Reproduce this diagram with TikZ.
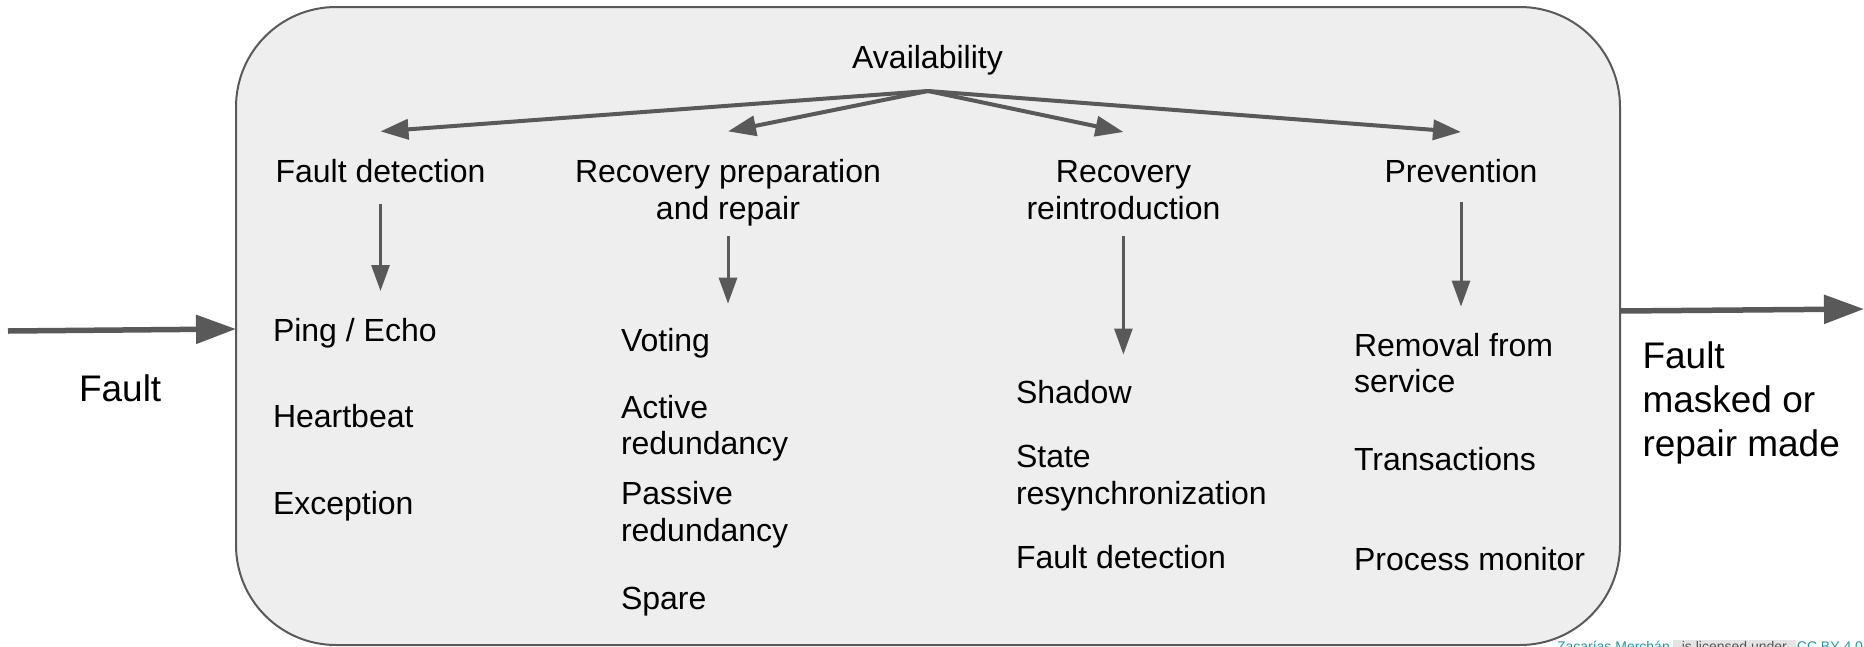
\documentclass[tikz,border=0pt]{standalone}
\usepackage{fontspec}
\setmainfont{Liberation Sans}
\usetikzlibrary{arrows.meta}

\definecolor{edge}{HTML}{595959}
\definecolor{panel}{HTML}{EEEEEE}
\definecolor{creditlink}{HTML}{1A9BA8}
\definecolor{creditbg}{HTML}{E4E4E4}
\definecolor{creditfg}{HTML}{555555}

\tikzset{
  txt/.style={inner sep=0pt, outer sep=0pt, text=black, font=\fontsize{32}{36.5}\selectfont},
  bigtxt/.style={inner sep=0pt, outer sep=0pt, text=black, font=\fontsize{37}{44}\selectfont},
  mainarrow/.style={draw=edge, line width=5.5pt, -{Triangle[length=40pt,width=28pt]}},
  fanarrow/.style={draw=edge, line width=4pt, -{Triangle[length=28pt,width=20pt]}},
  droparrow/.style={draw=edge, line width=3pt, -{Triangle[length=26pt,width=18pt]}}
}

\begin{document}
\begin{tikzpicture}[x=1pt, y=-1pt]
\useasboundingbox (0,0) rectangle (1864,646);

% rounded panel holding the tactic tree
\node[draw=edge, line width=2pt, fill=panel, rounded corners=100pt,
      minimum width=1384pt, minimum height=638pt, inner sep=0pt, outer sep=0pt]
      (frame) at (928,326) {};

% root and categories (multi-line nodes sit on their last baseline)
\node[txt, anchor=base] (avail) at (927.5,68) {Availability};
\node[txt, anchor=base] (fdet) at (380.5,182) {Fault detection};
\node[txt, anchor=base, align=center] (rprep) at (728,219) {Recovery preparation\\and repair};
\node[txt, anchor=base, align=center] (rrein) at (1123.5,219) {Recovery\\reintroduction};
\node[txt, anchor=base] (prev) at (1461,182) {Prevention};

% tactics: fault detection
\node[txt, anchor=base west] (ping) at (273,341) {Ping / Echo};
\node[txt, anchor=base west] (heart) at (273,427.7) {Heartbeat};
\node[txt, anchor=base west] (except) at (273,514.5) {Exception};

% tactics: recovery preparation and repair
\node[txt, anchor=base west] (vote) at (621,351) {Voting};
\node[txt, anchor=base west, align=left] (active) at (621,454.5) {Active\\redundancy};
\node[txt, anchor=base west, align=left] (passive) at (621,541) {Passive\\redundancy};
\node[txt, anchor=base west] (spare) at (621,609.5) {Spare};

% tactics: recovery reintroduction
\node[txt, anchor=base west] (shadow) at (1016,403) {Shadow};
\node[txt, anchor=base west, align=left] (resync) at (1016,504) {State\\resynchronization};
\node[txt, anchor=base west] (fdetb) at (1016,568) {Fault detection};

% tactics: prevention
\node[txt, anchor=base west, align=left] (removal) at (1354,392.6) {Removal from\\service};
\node[txt, anchor=base west] (trans) at (1354,470) {Transactions};
\node[txt, anchor=base west] (procmon) at (1354,570) {Process monitor};

% stimulus and response
\node[bigtxt, anchor=base west] (fault) at (79,401) {Fault};
\node[bigtxt, anchor=base west, align=left] (masked) at (1642.5,456.6) {Fault\\masked or\\repair made};

% fan of arrows from the root
\coordinate (apex) at (928,91);
\coordinate (fdetTip) at (380.5,131.4);
\coordinate (rprepTip) at (728,131.4);
\coordinate (rreinTip) at (1123.4,132);
\coordinate (prevTip) at (1461,132);
\draw[fanarrow] (apex) -- (fdetTip);
\draw[fanarrow] (apex) -- (rprepTip);
\draw[fanarrow] (apex) -- (rreinTip);
\draw[fanarrow] (apex) -- (prevTip);

% arrows from each category down to its tactics
\coordinate (fdetFrom) at (380.5,204);   \coordinate (fdetTo) at (380.5,291);
\coordinate (rprepFrom) at (728,235.5);  \coordinate (rprepTo) at (728,303.7);
\coordinate (rreinFrom) at (1123.4,235.5); \coordinate (rreinTo) at (1123.4,354.5);
\coordinate (prevFrom) at (1461,201.6);  \coordinate (prevTo) at (1461,306.6);
\draw[droparrow] (fdetFrom) -- (fdetTo);
\draw[droparrow] (rprepFrom) -- (rprepTo);
\draw[droparrow] (rreinFrom) -- (rreinTo);
\draw[droparrow] (prevFrom) -- (prevTo);

% fault entering and leaving the panel
\coordinate (faultStart) at (8,331);
\coordinate (frameIn) at (236,329);
\coordinate (frameOut) at (1620,311);
\coordinate (faultEnd) at (1864,309);
\draw[mainarrow] (faultStart) -- (frameIn);
\draw[mainarrow] (frameOut) -- (faultEnd);

% attribution line along the lower edge
\node[inner sep=0pt, outer sep=0pt, anchor=base west, font=\fontsize{14}{16}\selectfont]
  (credit) at (1557,651)
  {\textcolor{creditlink}{Zacarías Merchán}\hspace{3pt}{\fboxsep=0pt\colorbox{creditbg}{\strut\hspace{9pt}\textcolor{creditfg}{is licensed under}\hspace{9pt}}}\hspace{1pt}\textcolor{creditlink}{CC BY 4.0}};
\end{tikzpicture}
\end{document}
